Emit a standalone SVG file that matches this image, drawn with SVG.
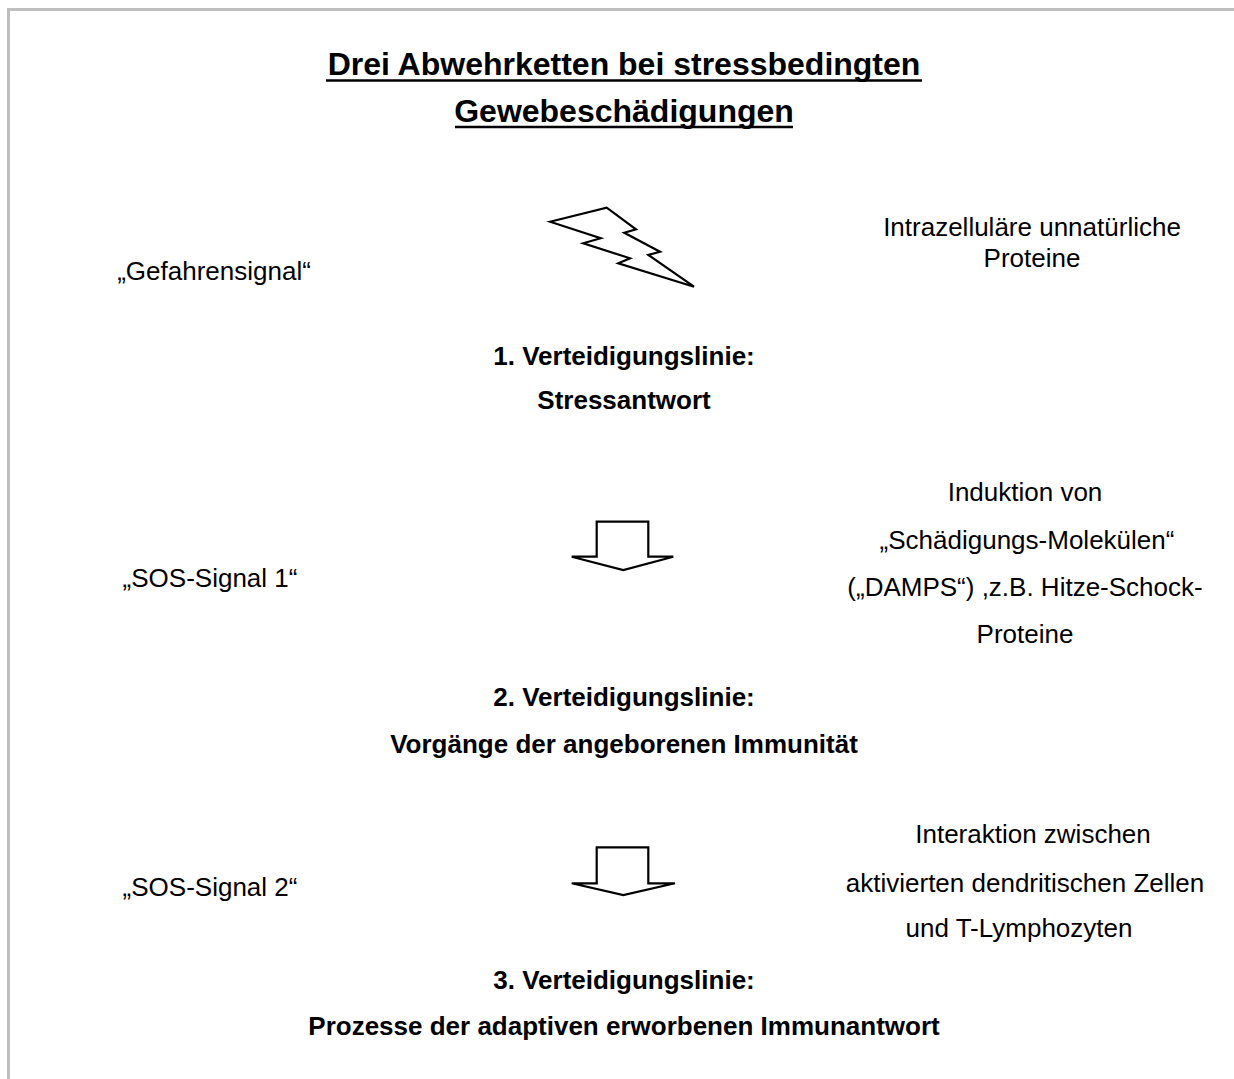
<svg xmlns="http://www.w3.org/2000/svg" width="1234" height="1079" viewBox="0 0 1234 1079">
<style>
text { font-family: "Liberation Sans", Arial, sans-serif; fill: #000; text-anchor: middle; }
.t { font-size: 26px; }
.b { font-size: 26px; font-weight: bold; }
.h { font-size: 32px; font-weight: bold; }
.ul { stroke: #000; stroke-width: 2.5; }
.shape { fill: #fff; stroke: #000; stroke-width: 2.2; stroke-linejoin: miter; }
.frame { fill: none; stroke: #bfbfbf; stroke-width: 3; }
</style>
<rect width="1234" height="1079" fill="#fff"/>
<path class="frame" d="M8.5,1079 V9.5 H1234"/>

<g id="title">
  <text class="h" x="624" y="75">Drei Abwehrketten bei stressbedingten</text>
  <line class="ul" x1="326" y1="80.5" x2="922" y2="80.5"/>
  <text class="h" x="624" y="122">Gewebeschädigungen</text>
  <line class="ul" x1="455" y1="127" x2="793" y2="127"/>
</g>

<g id="gefahrensignal">
  <text class="t" x="214" y="280">„Gefahrensignal“</text>
</g>
<g id="intrazellulaer">
  <text class="t" x="1032" y="236">Intrazelluläre unnatürliche</text>
  <text class="t" x="1032" y="267">Proteine</text>
</g>
<g id="linie1">
  <text class="b" x="624" y="365">1. Verteidigungslinie:</text>
  <text class="b" x="624" y="409">Stressantwort</text>
</g>
<g id="sos1">
  <text class="t" x="210" y="587">„SOS-Signal 1“</text>
</g>
<g id="damps">
  <text class="t" x="1025" y="501">Induktion von</text>
  <text class="t" x="1027" y="549">„Schädigungs-Molekülen“</text>
  <text class="t" x="1025" y="596">(„DAMPS“) ,z.B. Hitze-Schock-</text>
  <text class="t" x="1025" y="643">Proteine</text>
</g>
<g id="linie2">
  <text class="b" x="624" y="706">2. Verteidigungslinie:</text>
  <text class="b" x="624" y="753">Vorgänge der angeborenen Immunität</text>
</g>
<g id="sos2">
  <text class="t" x="210" y="896">„SOS-Signal 2“</text>
</g>
<g id="interaktion">
  <text class="t" x="1033" y="843">Interaktion zwischen</text>
  <text class="t" x="1025" y="892">aktivierten dendritischen Zellen</text>
  <text class="t" x="1019" y="937">und T-Lymphozyten</text>
</g>
<g id="linie3">
  <text class="b" x="624" y="989">3. Verteidigungslinie:</text>
  <text class="b" x="624" y="1035">Prozesse der adaptiven erworbenen Immunantwort</text>
</g>

<g id="connectors">
  <polygon id="blitz" class="shape" points="550,221.7 606.7,207.7 636,229.3 624.3,232.7 660,251.7 648.3,255 694,286.7 618.3,263.3 630,258.3 583.3,243.3 600.7,238.3"/>
  <polygon id="pfeil1" class="shape" points="596.7,521.7 648.3,521.7 648.3,556.7 673.3,556.7 623.3,570 571.7,556.7 596.7,556.7"/>
  <polygon id="pfeil2" class="shape" points="596.7,847.3 648.3,847.3 648.3,883.3 675,883.3 623.3,895 571.7,883.3 596.7,883.3"/>
</g>
</svg>
